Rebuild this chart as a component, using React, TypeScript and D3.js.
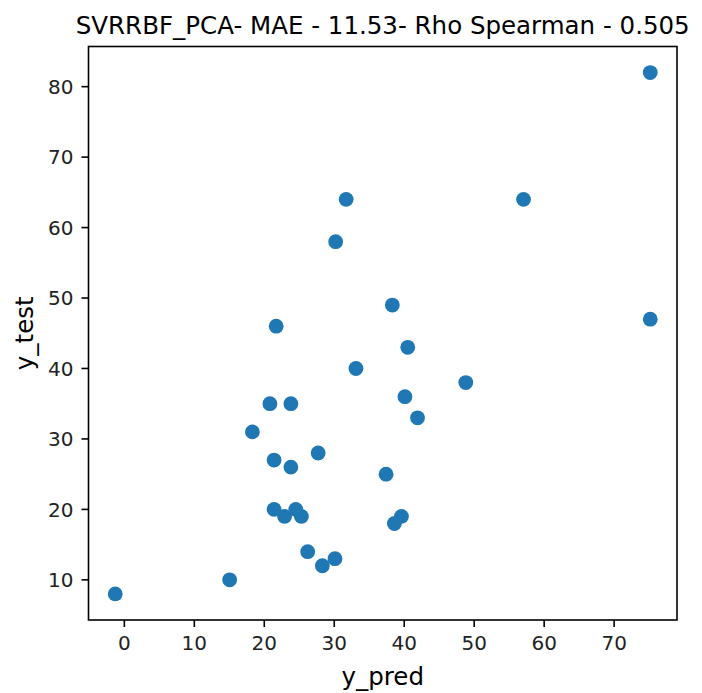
import React from "react";
import * as d3 from "d3";

const yPred: number[] = [-1.3, 15.05, 28.3, 30.1, 26.2, 38.6, 39.6, 22.9, 25.3, 21.4, 24.5, 37.4, 23.8, 21.4, 27.7, 18.3, 41.9, 20.8, 23.8, 40.1, 48.8, 33.1, 40.5, 21.7, 75.16, 38.3, 30.2, 31.7, 57.05, 75.16];
const yTest: number[] = [8, 10, 12, 13, 14, 18, 19, 19, 19, 20, 20, 25, 26, 27, 28, 31, 33, 35, 35, 36, 38, 40, 43, 46, 47, 49, 58, 64, 64, 82];
const xTicks: number[] = [0, 10, 20, 30, 40, 50, 60, 70];
const yTicks: number[] = [10, 20, 30, 40, 50, 60, 70, 80];
const title = "SVRRBF_PCA- MAE - 11.53- Rho Spearman - 0.505";
const xLabel = "y_pred";
const yLabel = "y_test";

const W = 702;
const H = 693;
const left = 88.5;
const right = 677;
const top = 46.5;
const bottom = 620;
const font = "'DejaVu Sans', sans-serif";

function pad(ext: [number, number]): [number, number] {
  const m = (ext[1] - ext[0]) * 0.05;
  return [ext[0] - m, ext[1] + m];
}

export default function App() {
  const x = d3.scaleLinear().domain(pad(d3.extent(yPred) as [number, number])).range([left, right]);
  const y = d3.scaleLinear().domain(pad(d3.extent(yTest) as [number, number])).range([bottom, top]);
  const tickLen = 7;
  return (
    <svg width={W} height={H} style={{ position: "absolute", left: 0, top: 0, background: "#fff" }}>
      <rect x={0} y={0} width={W} height={H} fill="#fff" />
      {yPred.map((v, i) => (
        <circle key={i} cx={x(v)} cy={y(yTest[i])} r={7.4} fill="#1f77b4" />
      ))}
      <rect x={left} y={top} width={right - left} height={bottom - top} fill="none" stroke="#000" strokeWidth={1.6} />
      {xTicks.map((t) => (
        <g key={"x" + t}>
          <line x1={x(t)} x2={x(t)} y1={bottom} y2={bottom + tickLen} stroke="#000" strokeWidth={1.6} />
          <text x={x(t)} y={bottom + 30} textAnchor="middle" fontFamily={font} fontSize={20} fill="#222">{t}</text>
        </g>
      ))}
      {yTicks.map((t) => (
        <g key={"y" + t}>
          <line x1={left - tickLen} x2={left} y1={y(t)} y2={y(t)} stroke="#000" strokeWidth={1.6} />
          <text x={left - tickLen - 8} y={y(t)} dy="0.36em" textAnchor="end" fontFamily={font} fontSize={20} fill="#222">{t}</text>
        </g>
      ))}
      <text x={(left + right) / 2} y={33.5} textAnchor="middle" fontFamily={font} fontSize={24.5} fill="#000">{title}</text>
      <text x={(left + right) / 2} y={685} textAnchor="middle" fontFamily={font} fontSize={24.5} fill="#000">{xLabel}</text>
      <text transform={`translate(33,${(top + bottom) / 2}) rotate(-90)`} textAnchor="middle" fontFamily={font} fontSize={24.5} fill="#000">{yLabel}</text>
    </svg>
  );
}
